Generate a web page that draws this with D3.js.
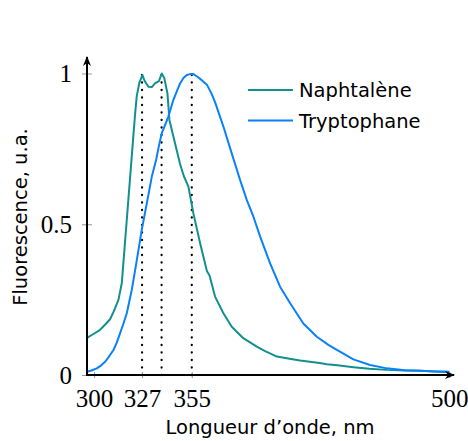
<!DOCTYPE html>
<html><head><meta charset="utf-8">
<script src="https://cdn.jsdelivr.net/npm/d3@7"></script>
<style>body{margin:0;background:#fff}svg{display:block}</style>
</head><body>
<svg id="c" width="468" height="441"></svg>
<script>
const naphNm = [296,299.6,303,306,309,311,313.7,315.6,317,318,319,320,321,322,323,324,325.5,327.2,328.5,330.6,332.5,334.3,336.5,338.1,339.5,341.3,342.4,345.6,348.4,350.5,353.1,355.9,359.7,363.5,365,368.1,372.8,377.5,384,391.6,396,402.9,410,416,427,431,437,446,455,464.8,475,483.6,492,500];
const naphVal = [0.123,0.136,0.148,0.166,0.185,0.21,0.249,0.305,0.41,0.485,0.56,0.635,0.71,0.785,0.86,0.925,0.97,0.995,0.975,0.956,0.955,0.967,0.975,1.0,0.985,0.934,0.846,0.768,0.7,0.66,0.625,0.536,0.437,0.345,0.33,0.26,0.205,0.16,0.122,0.094,0.08,0.061,0.054,0.048,0.04,0.036,0.032,0.026,0.021,0.017,0.015,0.014,0.012,0.01];
const trypNm = [296,298.5,301.5,304,306.2,308.5,310.9,312.8,314.6,316.5,318.4,321.2,323.1,325,326.8,329.7,332.5,334.9,336.5,338.1,340,341.8,344.6,346.5,348.4,350.3,352.2,354,355.9,358,360.6,363.5,366,368.1,372.8,377.5,382.2,386,389.7,393.5,399.1,404.7,410.4,417.8,425.4,431.9,436.7,446,455.4,464.8,475,483.6,492,500];
const trypVal = [0.011,0.015,0.022,0.032,0.044,0.062,0.083,0.108,0.138,0.17,0.205,0.282,0.348,0.415,0.481,0.57,0.658,0.713,0.76,0.802,0.83,0.857,0.912,0.94,0.967,0.985,0.995,0.998,0.998,0.99,0.978,0.963,0.935,0.905,0.824,0.735,0.647,0.58,0.525,0.459,0.37,0.293,0.238,0.171,0.127,0.1,0.083,0.052,0.033,0.022,0.016,0.014,0.012,0.011];
const seriesNames = ["Naphtalène","Tryptophane"];
const seriesColors = ["#12908f","#0a80fa"];
const xTicks = [300,327,355,500];
const yTicks = [0,0.5,1];
const yTickLabels = ["0","0.5","1"];
const markerNm = [327,338,355];
const markerVal = [1,1,1];
const xTitle = "Longueur d’onde, nm";
const yTitle = "Fluorescence, u.a.";

const svg = d3.select("#c");
const x = d3.scaleLinear().domain([296,500]).range([87,449.3]);
const y = d3.scaleLinear().domain([0,1]).range([375,73.5]);
const serif = "'Liberation Serif', serif";
const sans = "'DejaVu Sans', sans-serif";
const sansSize = 19.5;

svg.append("defs").append("marker").attr("id","arr").attr("viewBox","0 0 10 10")
  .attr("refX",9).attr("refY",5).attr("markerWidth",10).attr("markerHeight",10)
  .attr("markerUnits","userSpaceOnUse").attr("orient","auto")
  .append("path").attr("d","M0,1 L10,5 L0,9 L3,5 Z").attr("fill","#000");

// markers
markerNm.forEach((m,i)=>{
  svg.append("line").attr("x1",x(m)).attr("x2",x(m)).attr("y1",y(0)).attr("y2",y(markerVal[i]))
    .attr("stroke","#000").attr("stroke-width",2.3).attr("stroke-linecap","round").attr("stroke-dasharray","0,7.5");
});

// ticks
const gx = svg.append("g").attr("transform",`translate(0,${y(0)})`)
  .call(d3.axisBottom(x).tickValues(xTicks).tickSize(0).tickFormat(d3.format("d")));
gx.select(".domain").remove();
gx.selectAll("text").attr("font-family",serif).attr("font-size",25).attr("fill","#000").attr("dy",0).attr("y",32);
gx.selectAll(".tick").append("line").attr("y1",-3).attr("y2",3).attr("stroke","#999").attr("stroke-width",1);

const gy = svg.append("g").attr("transform",`translate(${x(296)},0)`)
  .call(d3.axisLeft(y).tickValues(yTicks).tickSize(0).tickFormat((d,i)=>yTickLabels[i]));
gy.select(".domain").remove();
gy.selectAll("text").attr("font-family",serif).attr("font-size",25).attr("fill","#000").attr("x",-15).attr("dy","0.33em");
gy.selectAll(".tick").append("line").attr("x1",-5).attr("x2",5).attr("stroke","#999").attr("stroke-width",1);

// curves
const line = d3.line().x(d=>x(d[0])).y(d=>y(d[1]));
const data = [d3.zip(naphNm,naphVal), d3.zip(trypNm,trypVal)];
data.forEach((d,i)=>{
  svg.append("path").datum(d).attr("d",line).attr("fill","none")
    .attr("stroke",seriesColors[i]).attr("stroke-width",2).attr("stroke-linejoin","round");
});

// axes lines
svg.append("line").attr("x1",x(296)).attr("x2",454).attr("y1",y(0)).attr("y2",y(0))
  .attr("stroke","#000").attr("stroke-width",2).attr("marker-end","url(#arr)");
svg.append("line").attr("x1",x(296)).attr("x2",x(296)).attr("y1",y(0)+1).attr("y2",57)
  .attr("stroke","#000").attr("stroke-width",2).attr("marker-end","url(#arr)");

// legend
seriesNames.forEach((n,i)=>{
  const ly = 90 + i*30.5;
  svg.append("line").attr("x1",248).attr("x2",293).attr("y1",ly).attr("y2",ly)
    .attr("stroke",seriesColors[i]).attr("stroke-width",2);
  svg.append("text").attr("x",299).attr("y",ly+7).attr("font-family",sans).attr("font-size",sansSize)
    .attr("fill","#000").text(n);
});

svg.append("text").attr("x",270).attr("y",434).attr("text-anchor","middle")
  .attr("font-family",sans).attr("font-size",sansSize).text(xTitle);
svg.append("text").attr("transform","translate(27,217) rotate(-90)").attr("text-anchor","middle")
  .attr("font-family",sans).attr("font-size",sansSize).text(yTitle);
</script>
</body></html>
